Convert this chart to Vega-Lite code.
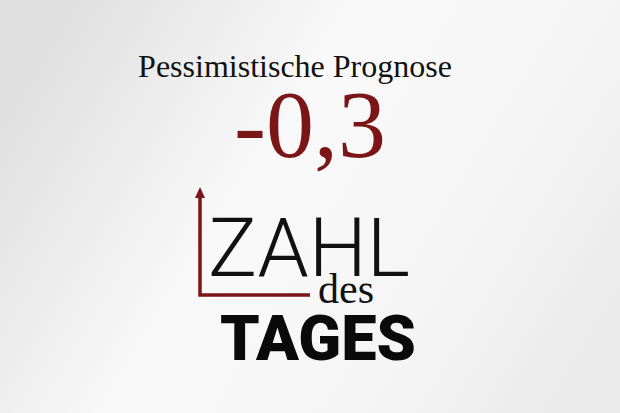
{
  "$schema": "https://vega.github.io/schema/vega-lite/v6.json",
  "description": "Zahl des Tages: pessimistische Prognose -0,3",
  "width": 620,
  "height": 413,
  "autosize": {"type": "fit", "contains": "padding"},
  "padding": 0,
  "background": "#ececec",
  "datasets": {
    "texte": [
      {"element": "Prognose", "text": "Pessimistische Prognose"},
      {"element": "Wert", "wert": -0.3},
      {"element": "Zahl", "text": "ZAHL"},
      {"element": "des", "text": "des"},
      {"element": "Tages", "text": "TAGES"}
    ],
    "pfeil": [
      {"schritt": 1, "h": 0, "v": 1},
      {"schritt": 2, "h": 0, "v": 0},
      {"schritt": 3, "h": 1, "v": 0}
    ]
  },
  "data": {"name": "texte"},
  "resolve": {"scale": {"y": "independent", "x": "independent"}},
  "layer": [
    {
      "data": {"values": [{"flaeche": "hintergrund"}]},
      "mark": {
        "type": "rect",
        "color": {
          "gradient": "linear",
          "x1": 0, "y1": 0.3, "x2": 1, "y2": 0.7,
          "stops": [
            {"offset": 0, "color": "#e0e0e0"},
            {"offset": 0.4, "color": "#f9f9f9"},
            {"offset": 0.75, "color": "#f5f5f5"},
            {"offset": 1, "color": "#ebebeb"}
          ]
        }
      },
      "encoding": {}
    },
    {
      "transform": [{"filter": "datum.element == 'Prognose'"}],
      "mark": {"type": "text", "font": "Liberation Serif", "fontSize": 32, "color": "#111111", "baseline": "alphabetic", "dx": -15, "dy": 36},
      "encoding": {
        "y": {"field": "element", "type": "nominal", "axis": null, "scale": {"type": "point", "domain": ["Prognose", "Wert", "Zahl", "des", "Tages"], "padding": 0.5}},
        "text": {"field": "text"}
      }
    },
    {
      "transform": [{"filter": "datum.element == 'Wert'"}],
      "mark": {"type": "text", "font": "Liberation Serif", "fontSize": 96, "color": "#7b1518", "baseline": "alphabetic", "dx": 0, "dy": 33},
      "encoding": {
        "y": {"field": "element", "type": "nominal", "axis": null, "scale": {"type": "point", "domain": ["Prognose", "Wert", "Zahl", "des", "Tages"], "padding": 0.5}},
        "text": {"field": "wert", "type": "quantitative", "format": ".1f"}
      }
    },
    {
      "transform": [{"filter": "datum.element == 'Zahl'"}],
      "mark": {"type": "text", "font": "Roboto", "fontWeight": 300, "fontSize": 82, "color": "#111111", "baseline": "alphabetic", "dx": -1, "dy": 69},
      "encoding": {
        "y": {"field": "element", "type": "nominal", "axis": null, "scale": {"type": "point", "domain": ["Prognose", "Wert", "Zahl", "des", "Tages"], "padding": 0.5}},
        "text": {"field": "text"}
      }
    },
    {
      "transform": [{"filter": "datum.element == 'des'"}],
      "mark": {"type": "text", "font": "Liberation Serif", "fontSize": 42, "color": "#111111", "baseline": "alphabetic", "dx": 36, "dy": 14},
      "encoding": {
        "y": {"field": "element", "type": "nominal", "axis": null, "scale": {"type": "point", "domain": ["Prognose", "Wert", "Zahl", "des", "Tages"], "padding": 0.5}},
        "text": {"field": "text"}
      }
    },
    {
      "transform": [{"filter": "datum.element == 'Tages'"}],
      "mark": {"type": "text", "font": "Roboto", "fontWeight": 900, "fontSize": 63, "color": "#0a0a0a", "baseline": "alphabetic", "dx": 8, "dy": -12},
      "encoding": {
        "y": {"field": "element", "type": "nominal", "axis": null, "scale": {"type": "point", "domain": ["Prognose", "Wert", "Zahl", "des", "Tages"], "padding": 0.5}},
        "text": {"field": "text"}
      }
    },
    {
      "layer": [
        {
          "mark": {"type": "line", "color": "#7b1518", "strokeWidth": 3.5, "strokeJoin": "miter"},
          "encoding": {
            "x": {"field": "h", "type": "quantitative", "axis": null, "scale": {"domain": [0, 1], "range": [200, 310], "zero": false}},
            "y": {"field": "v", "type": "quantitative", "axis": null, "scale": {"domain": [0, 1], "range": [295, 197], "zero": false}},
            "order": {"field": "schritt"}
          }
        },
        {
          "transform": [{"filter": "datum.schritt == 1"}],
          "mark": {"type": "point", "shape": "M-1,0.2L0,-2L1,0.2Z", "filled": true, "opacity": 1, "size": 100, "color": "#7b1518"},
          "encoding": {
            "x": {"field": "h", "type": "quantitative", "axis": null, "scale": {"domain": [0, 1], "range": [200, 310], "zero": false}},
            "y": {"field": "v", "type": "quantitative", "axis": null, "scale": {"domain": [0, 1], "range": [295, 197], "zero": false}}
          }
        }
      ],
      "data": {"name": "pfeil"}
    }
  ],
  "config": {
    "view": {"stroke": null},
    "locale": {
      "number": {"decimal": ",", "thousands": ".", "grouping": [3], "currency": ["", " €"], "minus": "-"}
    }
  }
}
